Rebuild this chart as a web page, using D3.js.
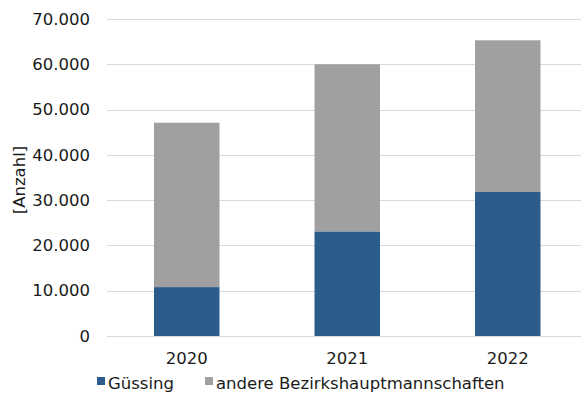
<!DOCTYPE html>
<html>
<head>
<meta charset="utf-8">
<script src="https://cdn.jsdelivr.net/npm/d3@7"></script>
<style>
  body { margin: 0; background: #fff; }
  svg { display: block; font-family: "DejaVu Sans", Verdana, sans-serif; }
</style>
</head>
<body>
<svg id="chart" width="581" height="401"></svg>
<script>
// data
const years = ['2020', '2021', '2022']
const guessing = [10800, 23100, 31800]
const andere = [36300, 36900, 33500]
const seriesNames = ['Güssing', 'andere Bezirkshauptmannschaften']
const seriesColors = ['#2b5c8b', '#a0a0a0']
const yTicks = [0, 10000, 20000, 30000, 40000, 50000, 60000, 70000]

const rows = years.map((y, i) => ({ year: y, 'Güssing': guessing[i], 'andere Bezirkshauptmannschaften': andere[i] }))

const svg = d3.select('#chart')
const fmt = d => d3.format(',')(d).replace(/,/g, '.')
const fontSize = '16.5px'

const x = d3.scaleBand()
  .domain(years)
  .range([106.5, 588])
  .paddingInner(0.592)
  .paddingOuter(0.296)

const y = d3.scaleLinear()
  .domain([0, 70000])
  .range([336, 19])

// grid lines
svg.append('g')
  .selectAll('line')
  .data(yTicks)
  .enter()
  .append('line')
  .attr('x1', 107)
  .attr('x2', 588)
  .attr('y1', d => Math.round(y(d)) + 0.5)
  .attr('y2', d => Math.round(y(d)) + 0.5)
  .attr('stroke', '#d9d9d9')
  .attr('stroke-width', 1)

// y axis labels
const yAxis = d3.axisLeft(y).tickValues(yTicks).tickFormat(fmt).tickSize(0).tickPadding(0)
svg.append('g')
  .attr('transform', 'translate(90,0)')
  .call(yAxis)
  .call(g => g.select('.domain').remove())
  .call(g => g.selectAll('text')
    .attr('fill', '#1a1a1a')
    .style('font-size', fontSize)
    .style('font-family', '"DejaVu Sans", Verdana, sans-serif'))

// x axis labels
const xAxis = d3.axisBottom(x).tickSize(0).tickPadding(0)
svg.append('g')
  .attr('transform', 'translate(0,352)')
  .call(xAxis)
  .call(g => g.select('.domain').remove())
  .call(g => g.selectAll('text')
    .attr('fill', '#1a1a1a')
    .style('font-size', fontSize)
    .style('font-family', '"DejaVu Sans", Verdana, sans-serif'))

// stacked bars
const stacked = d3.stack().keys(seriesNames)(rows)
svg.append('g')
  .selectAll('g')
  .data(stacked)
  .enter()
  .append('g')
  .attr('fill', (d, i) => seriesColors[i])
  .selectAll('rect')
  .data(d => d)
  .enter()
  .append('rect')
  .attr('x', d => x(d.data.year))
  .attr('width', x.bandwidth())
  .attr('y', d => y(d[1]))
  .attr('height', d => y(d[0]) - y(d[1]))

// y axis title
svg.append('text')
  .attr('transform', 'translate(25,180) rotate(-90)')
  .attr('text-anchor', 'middle')
  .attr('fill', '#1a1a1a')
  .style('font-size', fontSize)
  .text('[Anzahl]')

// legend
const legendX = [97, 205]
const legend = svg.append('g')
  .selectAll('g')
  .data(seriesNames)
  .enter()
  .append('g')
  .attr('transform', (d, i) => `translate(${legendX[i]},377)`)
legend.append('rect')
  .attr('width', 8)
  .attr('height', 8)
  .attr('fill', (d, i) => seriesColors[i])
legend.append('text')
  .attr('x', 11)
  .attr('y', 12)
  .attr('fill', '#1a1a1a')
  .style('font-size', fontSize)
  .text(d => d)
</script>
</body>
</html>
